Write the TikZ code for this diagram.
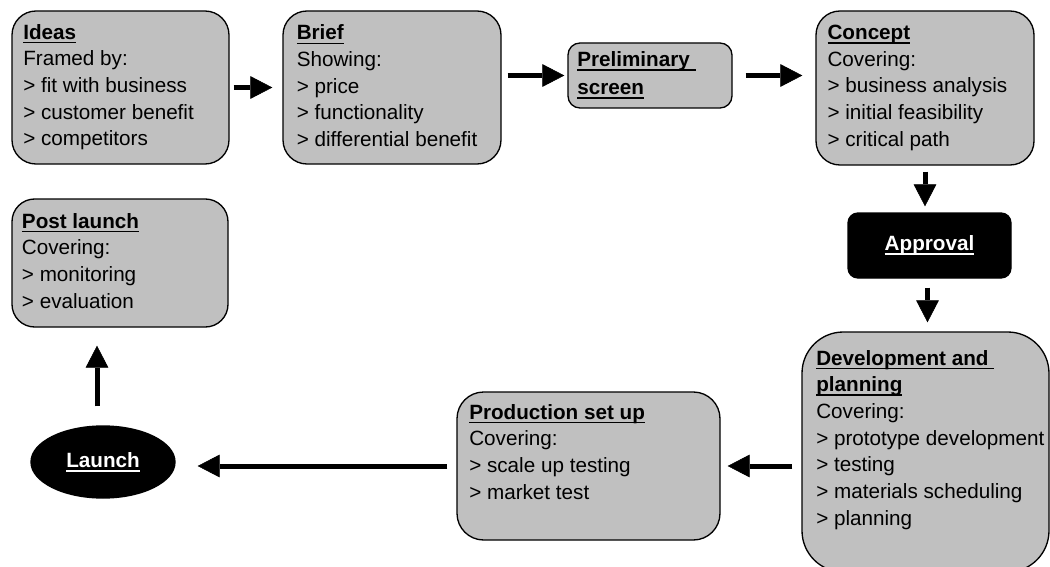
\documentclass[tikz,border=0pt]{standalone}
\usepackage{fontspec}
\setmainfont{Liberation Sans}
\usetikzlibrary{arrows.meta,fit,shapes.geometric}
\definecolor{boxgray}{HTML}{C0C0C0}
% bold heading with a rule underneath (trailing spaces included)
\newcommand\hd[1]{\setbox0=\hbox{\bfseries #1}\rlap{\rule[-3.1pt]{\wd0}{1.2pt}}\box0}
% a column of lines whose baseline is the first line
\newcommand\stagelines[1]{\begin{tabular}[t]{@{}l@{}}#1\end{tabular}}
\begin{document}
\begin{tikzpicture}[x=0.75pt,y=-0.75pt,
  stage/.style={draw=black, line width=1pt, fill=boxgray, rounded corners=#1, inner sep=0pt},
  stage/.default=18pt,
  darkstage/.style={draw=black, line width=1pt, fill=black, text=white, inner sep=0pt},
  body/.style={anchor=base west, inner sep=0pt, font=\fontsize{15.5pt}{20pt}\selectfont},
  flow/.style={line width=3.75pt, -{Triangle[length=16.5pt,width=17pt,line width=0.4pt]}}
]
\useasboundingbox (0,0) rectangle (1050,567);
\clip (0,0) rectangle (1050,567);

% stage boxes
\node[stage] (ideas)   [fit={(12,11) (229,164)}] {};
\node[stage] (brief)   [fit={(283,11) (501,164)}] {};
\node[stage=9pt] (prelim) [fit={(568,43) (732,108)}] {};
\node[stage] (concept) [fit={(816,11) (1034,165)}] {};
\node[darkstage, rounded corners=7.5pt, minimum width=122.25pt, minimum height=48.75pt,
      font=\fontsize{15.5pt}{20pt}\selectfont] (approval) at (929.5,245.5) {\hd{Approval}};
\node[stage=31pt] (dev)  [fit={(802,332) (1049,572)}] {};
\node[stage=20pt] (prod) [fit={(457,392) (720,540)}] {};
\node[darkstage, ellipse, minimum width=108pt, minimum height=54pt,
      font=\fontsize{15.5pt}{20pt}\selectfont] (launch) at (103,462) {\hd{Launch}};
\node[stage=17pt] (post) [fit={(12,199) (228,327)}] {};

% texts of the stages
\node[body] (ideastext) at (23,39.3) {\stagelines{\hd{Ideas}\\ Framed by:\\ > fit with business\\ > customer benefit\\ > competitors}};
\node[body] (brieftext) at (296.5,40) {\stagelines{\hd{Brief}\\ Showing:\\ > price\\ > functionality\\ > differential benefit}};
\node[body] (prelimtext) at (577,66.5) {\stagelines{\hd{Preliminary\ }\\[1pt] \hd{screen}}};
\node[body] (concepttext) at (827.3,39.5) {\stagelines{\hd{Concept}\\ Covering:\\ > business analysis\\ > initial feasibility\\ > critical path}};
\node[body] (devtext) at (816,365) {\stagelines{\hd{Development and\ }\\ \hd{planning}\\ Covering:\\ > prototype development\\ > testing\\ > materials scheduling\\ > planning}};
\node[body] (prodtext) at (469,419.3) {\stagelines{\hd{Production set up}\\ Covering:\\ > scale up testing\\ > market test}};
\node[body] (posttext) at (21.7,228.3) {\stagelines{\hd{Post launch}\\ Covering:\\ > monitoring\\ > evaluation}};

% connectors
\draw[flow, shorten <=3pt, shorten >=7.5pt] (ideas.east) -- (brief.west |- ideas.east);
\draw[flow, shorten <=4.5pt, shorten >=2.25pt] (brief.east |- prelim.west) -- (prelim.west);
\draw[flow, shorten <=9.75pt, shorten >=9.75pt] (prelim.east) -- (concept.west |- prelim.east);
\draw[flow, shorten <=4.5pt, shorten >=4.5pt] (concept.south) -- (concept.south |- approval.north);
\draw[flow, shorten <=6.75pt, shorten >=6.75pt] ([xshift=-1.5pt]approval.south) -- ([xshift=-1.5pt]approval.south |- dev.north);
\draw[flow, shorten <=6.75pt, shorten >=5.25pt] (dev.west |- prod.east) -- (prod.east);
\draw[flow, shorten <=6.75pt, shorten >=16.5pt] (prod.west) -- (launch.east |- prod.west);
\draw[flow, shorten <=14.25pt, shorten >=13.5pt] ([xshift=-4.5pt]launch.north) -- ([xshift=-4.5pt]launch.north |- post.south);
\end{tikzpicture}
\end{document}
